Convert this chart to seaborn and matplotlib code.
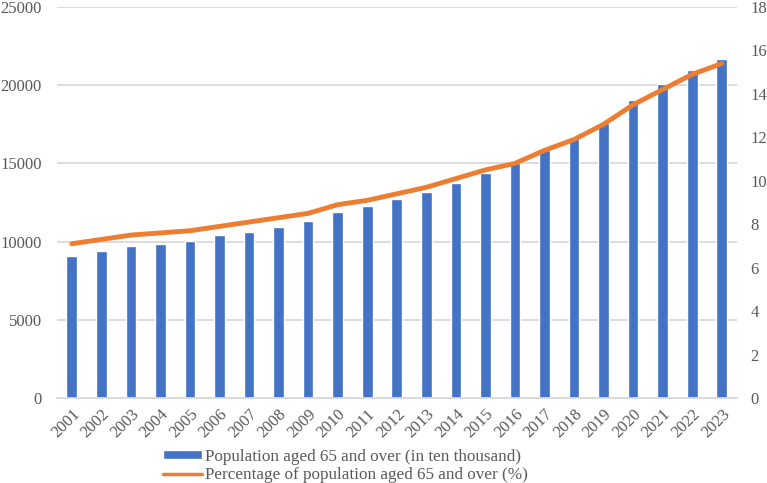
import numpy as np
import pandas as pd
import matplotlib
matplotlib.use("Agg")
import matplotlib.pyplot as plt
import seaborn as sns

# ── data ────────────────────────────────────────────────────────────
years = [str(y) for y in range(2001, 2024)]
population = [9062, 9377, 9692, 9857, 10055, 10419, 10636, 10956, 11307, 11894,
              12288, 12714, 13161, 13755, 14386, 15003, 15831, 16658, 17603,
              19064, 20056, 20978, 21676]
percentage = [7.1, 7.3, 7.5, 7.6, 7.7, 7.9, 8.1, 8.3, 8.5, 8.9, 9.1, 9.4, 9.7,
              10.1, 10.5, 10.8, 11.4, 11.9, 12.6, 13.5, 14.2, 14.9, 15.4]

bar_label = "Population aged 65 and over (in ten thousand)"
line_label = "Percentage of population aged 65 and over (%)"

df = pd.DataFrame({"year": years, "pop": population, "pct": percentage})

blue = "#4472C4"
orange = "#ED7D31"
tick_col = "#595959"
grid_col = "#D9D9D9"

sns.set_style("white")
plt.rcParams["font.family"] = ["Liberation Serif", "DejaVu Serif"]

fig = plt.figure(figsize=(7.67, 4.83), dpi=100)
ax = fig.add_axes([0.0743, 0.176, 0.886, 0.8095])

sns.barplot(data=df, x="year", y="pop", color=blue, saturation=1, width=0.36,
            ax=ax, label=bar_label, zorder=2)
ax.set_ylim(0, 25000)
ax.set_yticks(np.arange(0, 25001, 5000))
ax.set_xlim(-0.5, len(years) - 0.5)
ax.grid(axis="y", color=grid_col, linewidth=1.3, zorder=0)
ax.set_axisbelow(True)
for s in ["top", "right", "left"]:
    ax.spines[s].set_visible(False)
ax.spines["bottom"].set_color(grid_col)
ax.spines["bottom"].set_linewidth(1.3)
ax.set_xlabel("")
ax.set_ylabel("")
ax.tick_params(axis="y", length=0, labelsize=12, labelcolor=tick_col, pad=11)
ax.tick_params(axis="x", length=0, labelsize=12, labelcolor=tick_col, pad=6)
plt.setp(ax.get_xticklabels(), rotation=45, ha="right", rotation_mode="anchor")

ax2 = ax.twinx()
sns.lineplot(x=np.arange(len(years)), y=df["pct"], color=orange, linewidth=3.5,
             ax=ax2, label=line_label, solid_capstyle="round",
             solid_joinstyle="round")
ax2.set_ylim(0, 18)
ax2.set_yticks(np.arange(0, 19, 2))
for s in ["top", "right", "left", "bottom"]:
    ax2.spines[s].set_visible(False)
ax2.set_ylabel("")
ax2.tick_params(axis="y", length=0, labelsize=12, labelcolor=tick_col, pad=10)
ax2.get_legend().remove()

h1, l1 = ax.get_legend_handles_labels()
h2, l2 = ax2.get_legend_handles_labels()
if ax.get_legend() is not None:
    ax.get_legend().remove()
leg = fig.legend(h1 + h2, l1 + l2, loc="upper left",
                 bbox_to_anchor=(0.213, 0.071), frameon=False, fontsize=12.3,
                 labelcolor=tick_col, handlelength=2.25, handleheight=0.4,
                 labelspacing=0.12, handletextpad=0.2, borderpad=0,
                 borderaxespad=0)
for ln in leg.get_lines():
    ln.set_linewidth(2.5)

fig.savefig("out.png", dpi=100)
